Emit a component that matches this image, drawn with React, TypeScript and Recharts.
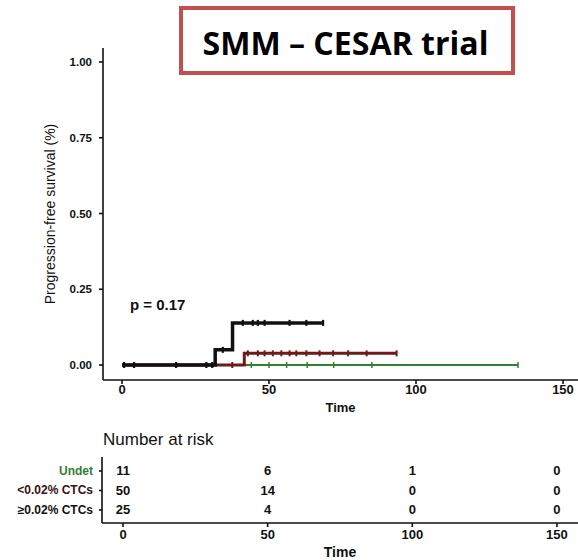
import {
  ComposedChart,
  Line,
  Scatter,
  XAxis,
  YAxis,
  ReferenceDot,
} from "recharts";

// step curves: event times and cumulative levels for each CTC group
const highTimes = [0, 31.7, 37.6, 68.4];
const highValues = [0, 0.05, 0.139, 0.139];
const highCensor = [0.7, 4.1, 18.4, 28.7, 30.7, 34.3, 41.1, 44.5, 46.2, 48.5, 57, 62.7, 68.4];

const lowTimes = [0, 41.6, 93.4];
const lowValues = [0, 0.0385, 0.0385];
const lowCensor = [37.5, 42.8, 46.2, 48.5, 51.3, 54.2, 57, 59.3, 62.7, 67.2, 71.8, 76.9, 83.2, 93.4];

const undetTimes = [0, 134.7];
const undetValues = [0, 0];
const undetCensor = [44, 50, 56, 63, 72, 85, 134.7];

// number at risk table
const riskTimes = [0, 50, 100, 150];
const riskUndet = [11, 6, 1, 0];
const riskLow = [50, 14, 0, 0];
const riskHigh = [25, 4, 0, 0];
const riskGroups = ["Undet", "<0.02% CTCs", "≥0.02% CTCs"];

const timeTicks = [0, 50, 100, 150];
const survTicks = [0, 0.25, 0.5, 0.75, 1];
const pValue = "p = 0.17";

const colors = { undet: "#2f7f34", low: "#6a1b1b", high: "#111111" };
const labelColors = ["#2f7f34", "#3a1212", "#111111"];
const FONT = "'Liberation Sans', Arial, sans-serif";

const toCurve = (times: number[], values: number[]) =>
  times.map((t, i) => ({ t, s: values[i] }));

// level of a step curve at time t
const levelAt = (times: number[], values: number[], t: number) => {
  let v = values[0];
  times.forEach((x, i) => {
    if (x <= t) v = values[i];
  });
  return v;
};

const toCensor = (times: number[], values: number[], marks: number[]) =>
  marks.map((t) => ({ t, s: levelAt(times, values, t) }));

const censorShape = (color: string, w: number) => (props: any) => {
  const { cx, cy } = props;
  return (
    <line x1={cx} x2={cx} y1={cy - 3} y2={cy + 3} stroke={color} strokeWidth={w} />
  );
};

const riskRows = [riskUndet, riskLow, riskHigh].map((vals, g) =>
  riskTimes.map((t, i) => ({ t, s: 3 - g, n: vals[i] }))
);

const axisStyle = { stroke: "#111", strokeWidth: 1.6 };

const RiskTick = (props: any) => {
  const { x, y, payload } = props;
  const idx = 3 - payload.value;
  return (
    <text
      x={x}
      y={y}
      textAnchor="end"
      dominantBaseline="central"
      fontSize={12}
      fontWeight="bold"
      fill={labelColors[idx]}
      fontFamily={FONT}
    >
      {riskGroups[idx]}
    </text>
  );
};

const SurvLabel = (props: any) => {
  const { x, y, height } = props.viewBox;
  const cx = x + 7;
  const cy = y + height / 2;
  return (
    <text
      x={cx}
      y={cy}
      transform={`rotate(-90 ${cx} ${cy})`}
      textAnchor="middle"
      dominantBaseline="central"
      fontSize={14}
      fill="#111"
      fontFamily={FONT}
    >
      Progression-free survival (%)
    </text>
  );
};

export default function App() {
  return (
    <div
      style={{
        position: "absolute",
        left: 0,
        top: 0,
        width: 578,
        height: 560,
        background: "#fff",
        fontFamily: FONT,
      }}
    >
      <div style={{ position: "absolute", left: 0, top: 0 }}>
        <ComposedChart
          width={578}
          height={420}
          margin={{ top: 48, right: 0, bottom: 0, left: 43 }}
        >
          <XAxis
            type="number"
            dataKey="t"
            domain={[-6.46, 155.1]}
            ticks={timeTicks}
            interval={0}
            allowDataOverflow
            height={40}
            tickSize={4}
            tickMargin={1}
            axisLine={axisStyle}
            tickLine={axisStyle}
            tick={{ fontSize: 13, fontWeight: "bold", fill: "#111", fontFamily: FONT }}
            label={{
              value: "Time",
              position: "insideBottom",
              offset: 8,
              fontSize: 13,
              fontWeight: "bold",
              fill: "#111",
              fontFamily: FONT,
            }}
          />
          <YAxis
            type="number"
            domain={[-0.0495, 1.0462]}
            ticks={survTicks}
            interval={0}
            allowDataOverflow
            width={60}
            tickSize={4}
            tickMargin={7}
            tickFormatter={(v: number) => v.toFixed(2)}
            axisLine={axisStyle}
            tickLine={axisStyle}
            tick={{ fontSize: 11.5, fontWeight: "bold", fill: "#111", fontFamily: FONT }}
            label={{ content: SurvLabel }}
          />
          <Line
            data={toCurve(undetTimes, undetValues)}
            dataKey="s"
            type="stepAfter"
            stroke={colors.undet}
            strokeWidth={2}
            dot={false}
            isAnimationActive={false}
          />
          <Scatter
            data={toCensor(undetTimes, undetValues, undetCensor)}
            dataKey="s"
            shape={censorShape(colors.undet, 1.5)}
            isAnimationActive={false}
          />
          <Line
            data={toCurve(lowTimes, lowValues)}
            dataKey="s"
            type="stepAfter"
            stroke={colors.low}
            strokeWidth={3}
            dot={false}
            isAnimationActive={false}
          />
          <Scatter
            data={toCensor(lowTimes, lowValues, lowCensor)}
            dataKey="s"
            shape={censorShape(colors.low, 2)}
            isAnimationActive={false}
          />
          <Line
            data={toCurve(highTimes, highValues)}
            dataKey="s"
            type="stepAfter"
            stroke={colors.high}
            strokeWidth={3.5}
            dot={false}
            isAnimationActive={false}
          />
          <Scatter
            data={toCensor(highTimes, highValues, highCensor)}
            dataKey="s"
            shape={censorShape(colors.high, 2.2)}
            isAnimationActive={false}
          />
          <ReferenceDot
            x={2.7}
            y={0.2}
            r={0}
            fill="none"
            stroke="none"
            label={{
              value: pValue,
              position: "right",
              offset: 0,
              fontSize: 15,
              fontWeight: "bold",
              fill: "#111",
              fontFamily: FONT,
            }}
          />
        </ComposedChart>
      </div>

      <svg
        width={578}
        height={80}
        style={{ position: "absolute", left: 0, top: 0 }}
      >
        <rect
          x={181}
          y={8}
          width={332}
          height={65}
          fill="#fff"
          stroke="#c0504d"
          strokeWidth={4}
        />
        <text
          x={345.5}
          y={55}
          textAnchor="middle"
          fontSize={33}
          fontWeight="bold"
          fill="#000"
          fontFamily="'Open Sans', sans-serif"
          textLength={286}
          lengthAdjust="spacingAndGlyphs"
        >
          SMM – CESAR trial
        </text>
      </svg>

      <div
        style={{
          position: "absolute",
          left: 103,
          top: 430,
          fontSize: 17,
          lineHeight: "20px",
          color: "#111",
          fontFamily: FONT,
        }}
      >
        Number at risk
      </div>

      <div style={{ position: "absolute", left: 0, top: 420 }}>
        <ComposedChart
          width={578}
          height={140}
          margin={{ top: 37, right: 0, bottom: 0, left: 32 }}
        >
          <XAxis
            type="number"
            dataKey="t"
            domain={[-7.26, 157.28]}
            ticks={timeTicks}
            interval={0}
            allowDataOverflow
            height={37}
            tickSize={4}
            tickMargin={3}
            axisLine={axisStyle}
            tickLine={axisStyle}
            tick={{ fontSize: 13, fontWeight: "bold", fill: "#111", fontFamily: FONT }}
            label={{
              value: "Time",
              position: "insideBottom",
              offset: 3,
              fontSize: 14,
              fontWeight: "bold",
              fill: "#111",
              fontFamily: FONT,
            }}
          />
          <YAxis
            type="number"
            domain={[0.333, 3.718]}
            ticks={[1, 2, 3]}
            interval={0}
            allowDataOverflow
            width={70}
            tickSize={3}
            tickMargin={6}
            axisLine={axisStyle}
            tickLine={axisStyle}
            tick={<RiskTick />}
          />
          {riskRows.map((row, g) => (
            <Scatter
              key={riskGroups[g]}
              data={row}
              dataKey="s"
              isAnimationActive={false}
              shape={(p: any) => (
                <text
                  x={p.cx}
                  y={p.cy}
                  textAnchor="middle"
                  dominantBaseline="central"
                  fontSize={13}
                  fontWeight="bold"
                  fill="#111"
                  fontFamily={FONT}
                >
                  {p.payload.n}
                </text>
              )}
            />
          ))}
        </ComposedChart>
      </div>
    </div>
  );
}
